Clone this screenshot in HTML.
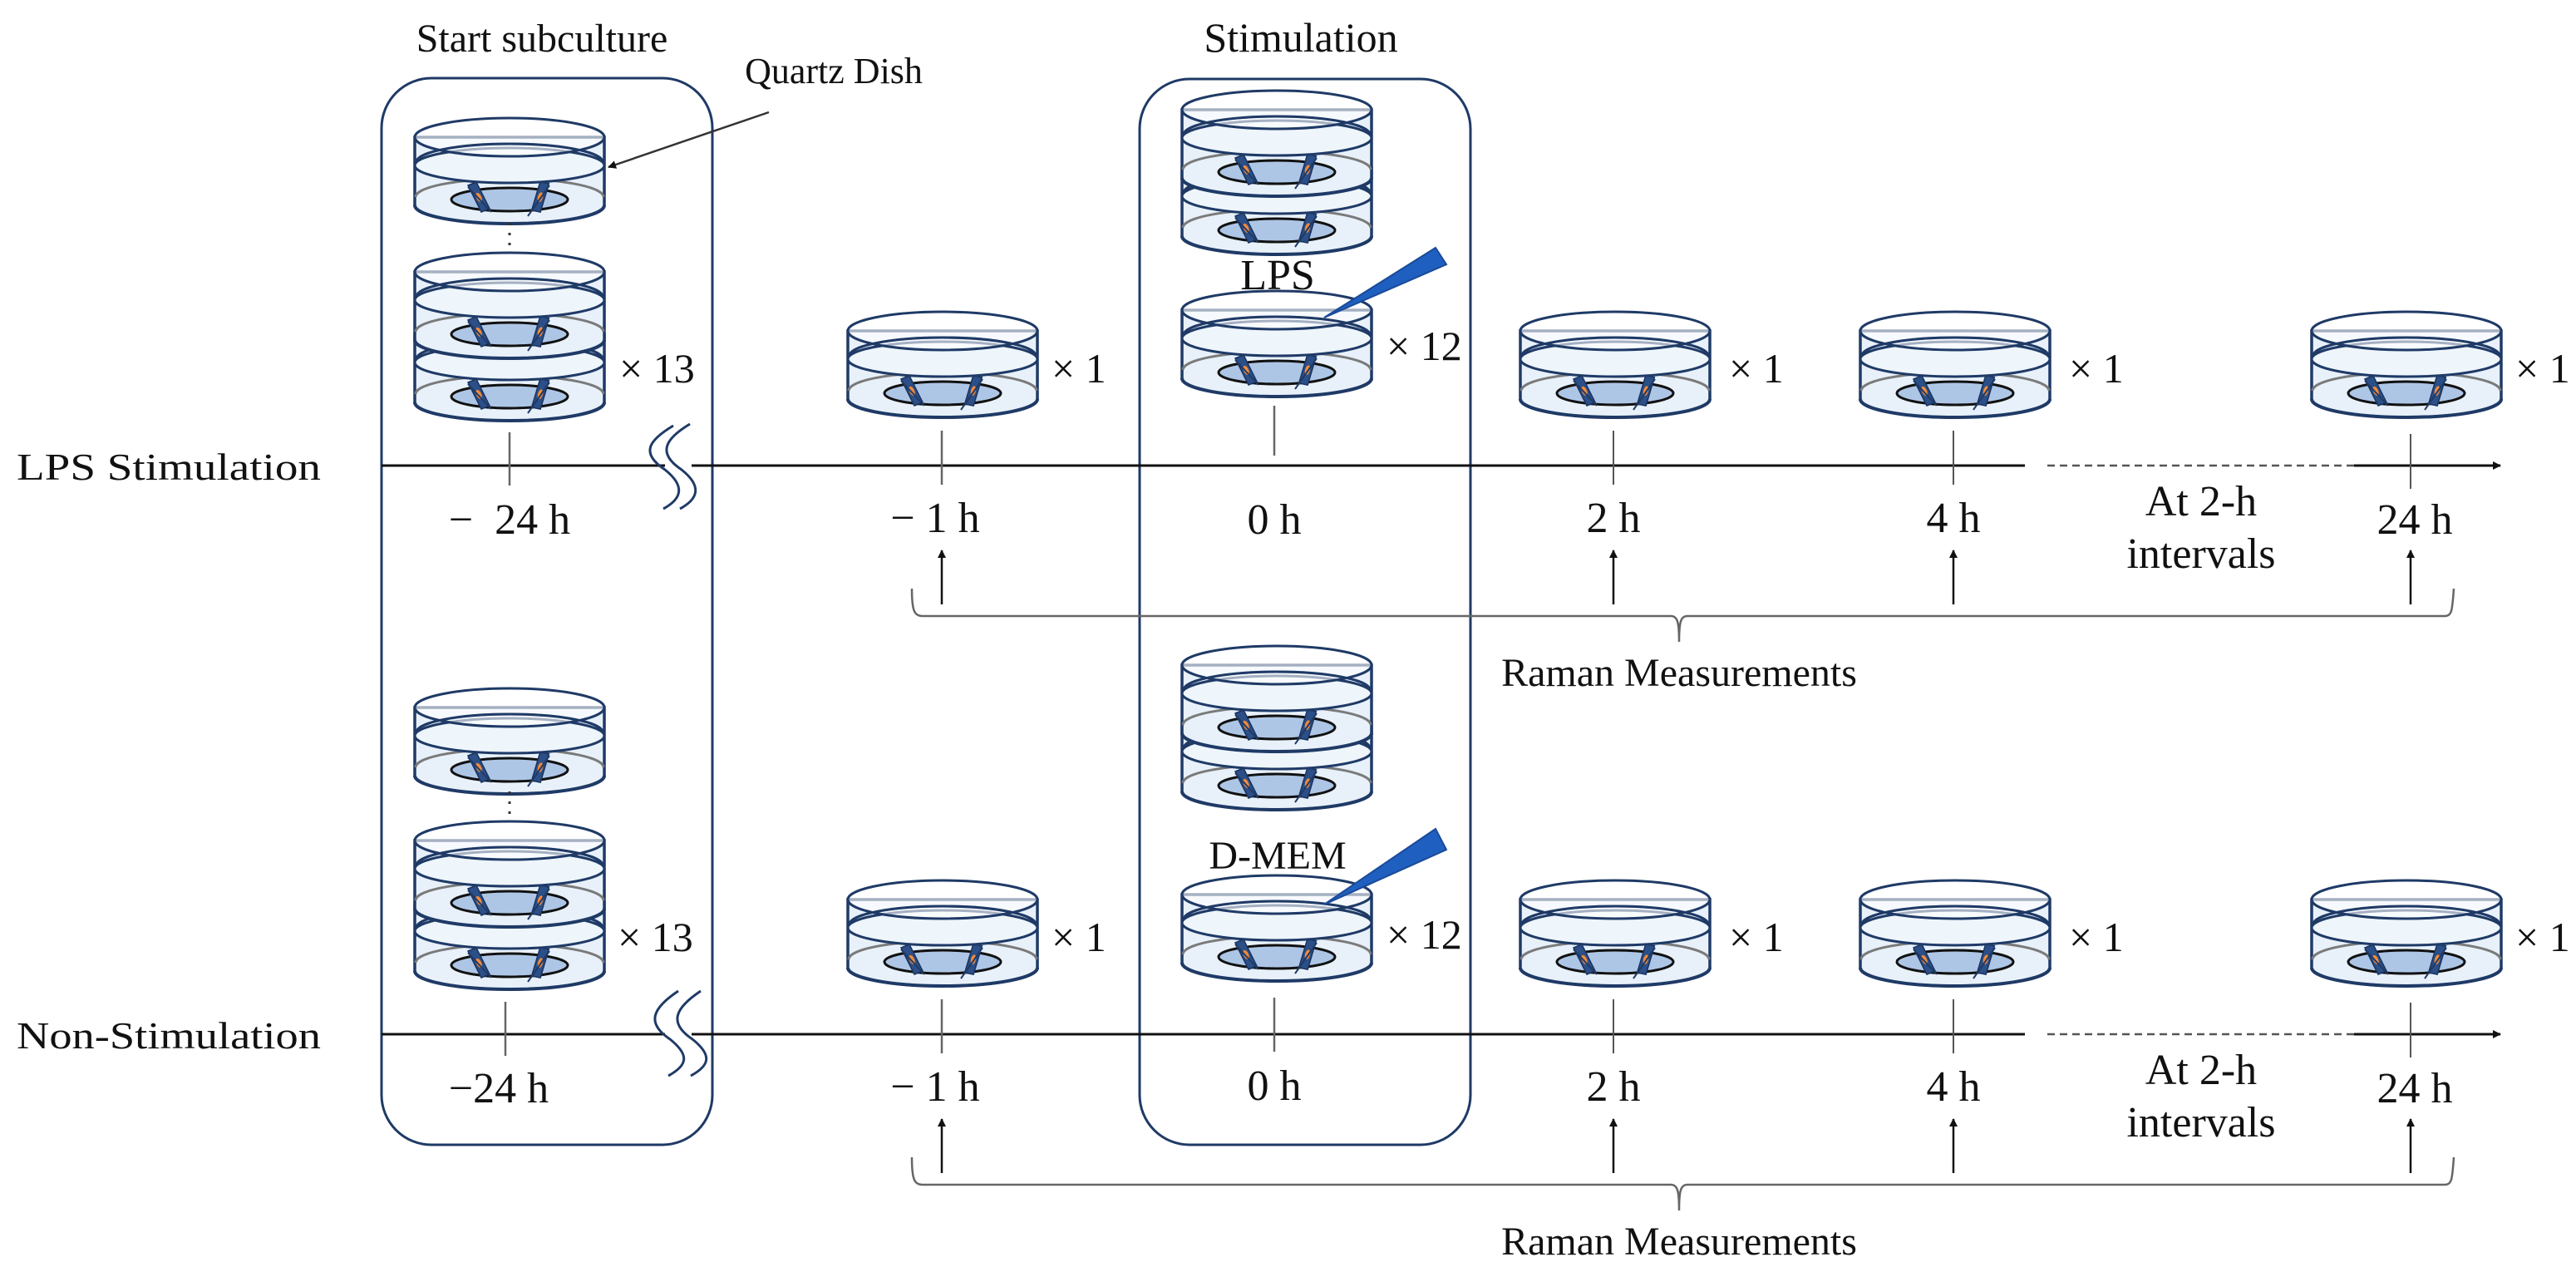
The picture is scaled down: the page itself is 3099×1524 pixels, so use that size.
<!DOCTYPE html>
<html><head><meta charset="utf-8"><style>
html,body{margin:0;padding:0;background:#fff;}
svg{display:block;}
text{font-family:"Liberation Serif","DejaVu Serif",serif;fill:#111;}
</style></head><body>
<svg width="3099" height="1524" viewBox="0 0 3099 1524" xmlns="http://www.w3.org/2000/svg">
<defs>
<g id="cell">
  <polygon points="-14,-14 -4,-18 12,14 2,18" fill="#2b4f86" stroke="#1a3360" stroke-width="1.5"/>
  <ellipse cx="-1" cy="0" rx="3" ry="6" fill="#f08a3c" transform="rotate(-25)"/>
</g>
<g id="dish">
  <path d="M-114,0 L-114,82 A114,22 0 0 0 114,82 L114,0 Z" fill="#e8f1fa" stroke="#1f3a66" stroke-width="3.5"/>
  <path d="M-113,72 A113,22 0 0 1 113,72" fill="none" stroke="#7a7a7a" stroke-width="3"/>
  <ellipse cx="0" cy="75" rx="70" ry="14" fill="#aec6e6" stroke="#111" stroke-width="3"/>
  <use href="#cell" x="-36" y="72"/>
  <g transform="translate(36,72) scale(-1,1) rotate(10)"><use href="#cell"/></g>
  <line x1="-50" y1="60" x2="-22" y2="90" stroke="#1f3a66" stroke-width="2"/>
  <line x1="48" y1="58" x2="22" y2="95" stroke="#1f3a66" stroke-width="2"/>
  <path d="M-114,82 A114,22 0 0 0 114,82" fill="none" stroke="#1f3a66" stroke-width="4"/>
  <ellipse cx="0" cy="34" rx="114" ry="21" fill="#eef5fb" stroke="#1f3a66" stroke-width="3"/>
  <path d="M-112,30 A112,22 0 0 1 112,30" fill="none" stroke="#1f3a66" stroke-width="3"/>
  <ellipse cx="0" cy="0" rx="114" ry="23" fill="#fff" fill-opacity="0.6" stroke="#1f3a66" stroke-width="3"/>
  <path d="M-112,30 A112,22 0 0 1 112,30" fill="none" stroke="#1f3a66" stroke-width="3"/>
</g>
<marker id="ah" markerWidth="10" markerHeight="10" refX="9" refY="5" orient="auto" markerUnits="userSpaceOnUse"><path d="M0,0 L10,5 L0,10Z" fill="#111"/></marker>
</defs>

<!-- titles -->
<text x="652" y="62" font-size="48" text-anchor="middle">Start subculture</text>
<text x="1565" y="62" font-size="50" text-anchor="middle">Stimulation</text>
<text x="1003" y="100" font-size="44" text-anchor="middle">Quartz Dish</text>

<!-- boxes -->
<rect x="459" y="94" width="398" height="1283" rx="60" fill="none" stroke="#1f3a66" stroke-width="3"/>
<rect x="1371" y="95" width="398" height="1282" rx="60" fill="none" stroke="#1f3a66" stroke-width="3"/>

<!-- ROW 1 -->
<text x="20" y="577" font-size="46" textLength="366" lengthAdjust="spacingAndGlyphs">LPS Stimulation</text>
<line x1="459" y1="560" x2="800" y2="560" stroke="#111" stroke-width="3"/>
<line x1="832" y1="560" x2="2436" y2="560" stroke="#111" stroke-width="3"/>
<line x1="2463" y1="560" x2="2832" y2="560" stroke="#555" stroke-width="2.5" stroke-dasharray="9,6"/>
<line x1="2832" y1="560" x2="3008" y2="560" stroke="#111" stroke-width="3" marker-end="url(#ah)"/>
<path d="M810,512 C780,530 770,545 800,565 C825,585 820,600 798,612" fill="none" stroke="#1f3a66" stroke-width="3"/>
<path d="M830,510 C800,528 790,545 820,565 C845,585 840,600 818,612" fill="none" stroke="#1f3a66" stroke-width="3"/>

<!-- box1 row1 stack -->
<use href="#dish" x="613" y="165"/>
<line x1="613" y1="268" x2="613" y2="302" stroke="#333" stroke-width="3" stroke-dasharray="3,9"/>
<use href="#dish" x="613" y="402"/>
<use href="#dish" x="613" y="327"/>
<line x1="925" y1="135" x2="732" y2="201" stroke="#333" stroke-width="2.5" marker-end="url(#ah)"/>
<text x="745" y="460" font-size="50">× 13</text>
<line x1="613" y1="520" x2="613" y2="584" stroke="#666" stroke-width="2.5"/>
<text x="613" y="642" font-size="52" text-anchor="middle">−&#160;&#160;24 h</text>

<!-- stim row1 -->
<use href="#dish" x="1536" y="202"/>
<use href="#dish" x="1536" y="132"/>
<text x="1537" y="348" font-size="52" text-anchor="middle">LPS</text>
<use href="#dish" x="1536" y="373"/>
<polygon points="1593,382 1727,298 1740,318" fill="#1f5fbf" stroke="#1a4a99" stroke-width="2"/>
<text x="1668" y="433" font-size="50">× 12</text>
<line x1="1533" y1="488" x2="1533" y2="548" stroke="#666" stroke-width="2.5"/>
<text x="1533" y="642" font-size="52" text-anchor="middle">0 h</text>

<!-- singles row1 -->
<use href="#dish" x="1134" y="398"/>
<text x="1265" y="460" font-size="50">× 1</text>
<line x1="1133" y1="518" x2="1133" y2="583" stroke="#666" stroke-width="2.5"/>
<text x="1125" y="640" font-size="52" text-anchor="middle">− 1 h</text>

<use href="#dish" x="1943" y="398"/>
<text x="2080" y="460" font-size="50">× 1</text>
<line x1="1941" y1="518" x2="1941" y2="583" stroke="#555" stroke-width="2"/>
<text x="1941" y="640" font-size="52" text-anchor="middle">2 h</text>

<use href="#dish" x="2352" y="398"/>
<text x="2489" y="460" font-size="50">× 1</text>
<line x1="2350" y1="518" x2="2350" y2="583" stroke="#555" stroke-width="2"/>
<text x="2350" y="640" font-size="52" text-anchor="middle">4 h</text>

<use href="#dish" x="2895" y="398"/>
<text x="3026" y="460" font-size="50">× 1</text>
<line x1="2900" y1="522" x2="2900" y2="588" stroke="#555" stroke-width="2"/>
<text x="2905" y="642" font-size="52" text-anchor="middle">24 h</text>
<text x="2648" y="620" font-size="52" text-anchor="middle">At 2-h</text>
<text x="2648" y="683" font-size="52" text-anchor="middle">intervals</text>

<g stroke="#111" stroke-width="2.5">
<line x1="1133" y1="727" x2="1133" y2="662" marker-end="url(#ah)"/>
<line x1="1941" y1="727" x2="1941" y2="662" marker-end="url(#ah)"/>
<line x1="2350" y1="727" x2="2350" y2="662" marker-end="url(#ah)"/>
<line x1="2900" y1="727" x2="2900" y2="662" marker-end="url(#ah)"/>
</g>
<path d="M1097,708 C1097,735 1100,741 1110,741 L2010,741 C2018,741 2020,748 2020,772 C2020,748 2022,741 2030,741 L2940,741 C2950,741 2950,735 2952,708" fill="none" stroke="#666" stroke-width="2.5"/>
<text x="2020" y="825" font-size="48" text-anchor="middle">Raman Measurements</text>

<!-- ROW 2 -->
<text x="20" y="1261" font-size="46" textLength="366" lengthAdjust="spacingAndGlyphs">Non-Stimulation</text>
<line x1="459" y1="1244" x2="800" y2="1244" stroke="#111" stroke-width="3"/>
<line x1="832" y1="1244" x2="2436" y2="1244" stroke="#111" stroke-width="3"/>
<line x1="2463" y1="1244" x2="2832" y2="1244" stroke="#555" stroke-width="2.5" stroke-dasharray="9,6"/>
<line x1="2832" y1="1244" x2="3008" y2="1244" stroke="#111" stroke-width="3" marker-end="url(#ah)"/>
<path d="M816,1192 C786,1212 776,1230 806,1250 C831,1270 826,1282 804,1294" fill="none" stroke="#1f3a66" stroke-width="3"/>
<path d="M843,1192 C813,1212 803,1230 833,1250 C858,1270 853,1282 831,1294" fill="none" stroke="#1f3a66" stroke-width="3"/>

<use href="#dish" x="613" y="851"/>
<line x1="613" y1="952" x2="613" y2="986" stroke="#333" stroke-width="3" stroke-dasharray="3,9"/>
<use href="#dish" x="613" y="1086"/>
<use href="#dish" x="613" y="1011"/>
<text x="743" y="1144" font-size="50">× 13</text>
<line x1="608" y1="1205" x2="608" y2="1270" stroke="#666" stroke-width="2.5"/>
<text x="600" y="1326" font-size="52" text-anchor="middle">−24 h</text>

<use href="#dish" x="1536" y="870"/>
<use href="#dish" x="1536" y="800"/>
<text x="1537" y="1045" font-size="48" text-anchor="middle">D-MEM</text>
<use href="#dish" x="1536" y="1076"/>
<polygon points="1593,1088 1727,997 1740,1022" fill="#1f5fbf" stroke="#1a4a99" stroke-width="2"/>
<text x="1668" y="1141" font-size="50">× 12</text>
<line x1="1533" y1="1200" x2="1533" y2="1265" stroke="#666" stroke-width="2.5"/>
<text x="1533" y="1323" font-size="52" text-anchor="middle">0 h</text>

<use href="#dish" x="1134" y="1082"/>
<text x="1265" y="1144" font-size="50">× 1</text>
<line x1="1133" y1="1202" x2="1133" y2="1267" stroke="#666" stroke-width="2.5"/>
<text x="1125" y="1324" font-size="52" text-anchor="middle">− 1 h</text>

<use href="#dish" x="1943" y="1082"/>
<text x="2080" y="1144" font-size="50">× 1</text>
<line x1="1941" y1="1202" x2="1941" y2="1267" stroke="#555" stroke-width="2"/>
<text x="1941" y="1324" font-size="52" text-anchor="middle">2 h</text>

<use href="#dish" x="2352" y="1082"/>
<text x="2489" y="1144" font-size="50">× 1</text>
<line x1="2350" y1="1202" x2="2350" y2="1267" stroke="#555" stroke-width="2"/>
<text x="2350" y="1324" font-size="52" text-anchor="middle">4 h</text>

<use href="#dish" x="2895" y="1082"/>
<text x="3026" y="1144" font-size="50">× 1</text>
<line x1="2900" y1="1206" x2="2900" y2="1272" stroke="#555" stroke-width="2"/>
<text x="2905" y="1326" font-size="52" text-anchor="middle">24 h</text>
<text x="2648" y="1304" font-size="52" text-anchor="middle">At 2-h</text>
<text x="2648" y="1367" font-size="52" text-anchor="middle">intervals</text>

<g stroke="#111" stroke-width="2.5">
<line x1="1133" y1="1411" x2="1133" y2="1346" marker-end="url(#ah)"/>
<line x1="1941" y1="1411" x2="1941" y2="1346" marker-end="url(#ah)"/>
<line x1="2350" y1="1411" x2="2350" y2="1346" marker-end="url(#ah)"/>
<line x1="2900" y1="1411" x2="2900" y2="1346" marker-end="url(#ah)"/>
</g>
<path d="M1097,1392 C1097,1419 1100,1425 1110,1425 L2010,1425 C2018,1425 2020,1432 2020,1456 C2020,1432 2022,1425 2030,1425 L2940,1425 C2950,1425 2950,1419 2952,1392" fill="none" stroke="#666" stroke-width="2.5"/>
<text x="2020" y="1509" font-size="48" text-anchor="middle">Raman Measurements</text>
</svg>
</body></html>
